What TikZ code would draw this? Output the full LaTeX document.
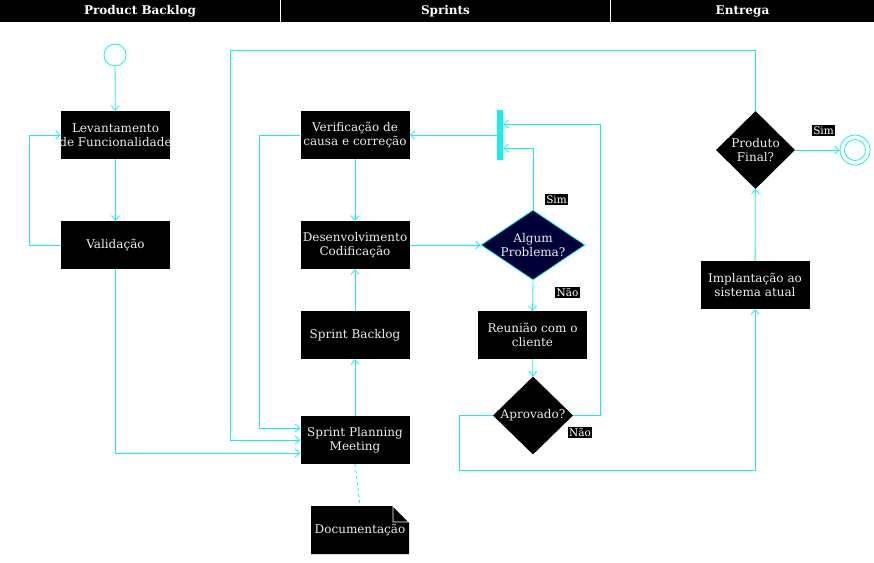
\documentclass[tikz,border=0pt]{standalone}
\usepackage{fontspec}
\setmainfont{DejaVu Serif}
\usetikzlibrary{arrows.meta,shapes.geometric}
\definecolor{flowc}{RGB}{20,240,240}
\definecolor{navy}{RGB}{0,0,56}
\definecolor{txt}{RGB}{236,236,236}
\begin{document}
\begin{tikzpicture}[x=1pt,y=-1pt,
  box/.style={rectangle, fill=black, text=txt, minimum width=109pt, minimum height=48pt,
    inner sep=0pt, align=center, font=\fontsize{12}{14.3}\selectfont},
  decision/.style={diamond, fill=black, inner sep=0pt},
  dtext/.style={text=txt, align=center, font=\fontsize{12}{14.3}\selectfont},
  header/.style={rectangle, fill=black, text=white, minimum height=22pt, inner sep=0pt,
    font=\bfseries\fontsize{12}{14}\selectfont},
  lbl/.style={fill=black, text=white, inner sep=1.2pt, font=\fontsize{10.5}{11}\selectfont},
  link/.style={draw=flowc, line width=0.8pt, -{Straight Barb[length=4.5pt,width=8pt]}},
]
\useasboundingbox (0,0) rectangle (874,562);
\fill[white] (0,0) rectangle (874,562);

% lane headers
\node[header, minimum width=280pt] (h1) at (140,11) {Product Backlog};
\node[header, minimum width=329pt] (h2) at (445.5,11) {Sprints};
\node[header, minimum width=263pt] (h3) at (742.5,11) {Entrega};
\draw[white, line width=1pt] (h1.north east) -- (h1.south east);
\draw[white, line width=1pt] (h2.north east) -- (h2.south east);

% Product Backlog lane
\node[circle, draw=flowc, fill=white, line width=0.8pt, minimum size=22pt, inner sep=0pt] (start) at (115,55) {};
% the label may run past the box edges, the box keeps its width
\node[box, label={[dtext]center:Levantamento\\de Funcionalidade}] (lev) at (115.5,135) {};
\node[box] (val) at (115.5,245) {Validação};

% Sprints lane
\node[box] (ver) at (355,135) {Verificação de\\causa e correção};
\node[box] (dev) at (355,245) {Desenvolvimento\\Codificação};
\node[box] (sb)  at (355,335) {Sprint Backlog};
\node[box] (spm) at (355,440) {Sprint Planning\\Meeting};
\node[box] (reu) at (532.5,335) {Reunião com o\\cliente};
\node[decision, fill=navy, draw=flowc, line width=0.8pt, minimum width=104pt, minimum height=70pt,
  label={[dtext]center:Algum\\Problema?}] (alg) at (533,245) {};
\node[decision, minimum width=80pt, minimum height=78pt,
  label={[dtext]center:Aprovado?}] (apr) at (533,415.5) {};
\node[rectangle, fill=flowc, minimum width=6pt, minimum height=50pt, inner sep=0pt] (bar) at (500,135) {};

% note with folded corner
\fill[black] (311,506) -- (393,506) -- (409,522) -- (409,554) -- (311,554) -- cycle;
\draw[white, line width=0.8pt] (393,506) -- (393,522) -- (409,522) -- cycle;
\node[minimum width=98pt, minimum height=48pt, inner sep=0pt, text=txt,
  font=\fontsize{12}{14}\selectfont] (doc) at (360,530) {\raisebox{-2pt}{Documentação}};

% Entrega lane
\node[box] (imp) at (755,285) {Implantação ao\\sistema atual};
\node[decision, minimum width=79pt, minimum height=78pt,
  label={[dtext]center:Produto\\Final?}] (pf) at (755.5,150) {};
\node[circle, draw=flowc, fill=white, line width=0.8pt, minimum size=30pt, inner sep=0pt] (endc) at (855,150) {};
\draw[flowc, line width=0.8pt] (endc.center) circle (10.5pt);

% waypoints
\coordinate (top) at (230,50);
\coordinate (low) at (755,470);

% connectors
\draw[link] (start) -- (lev);
\draw[link] (lev) -- (val);
\draw[link] (val.west) -- ++(-31,0) |- (lev.west);
\draw[link] (val.south) |- ([yshift=-13pt]spm.west);
\draw[link] (ver.west) -- ++(-41,0) |- ([yshift=12pt]spm.west);
\draw[link] (pf.north) |- (top) |- (spm.west);
\draw[link] (spm) -- (sb);
\draw[link] (sb) -- (dev);
\draw[link] (ver) -- (dev);
\draw[link] (dev) -- (alg);
\draw[link] (alg.north) |- ([yshift=-13pt]bar.east);
\draw[link] (bar.west) -- (ver.east);
\draw[link] (alg.south) -- (reu.north);
\draw[link] (reu) -- (apr);
\draw[link] (apr.east) -- ++(27,0) |- ([yshift=11pt]bar.east);
\draw[link] (apr.west) -- ++(-33,0) |- (low) -- (imp.south);
\draw[link] (imp) -- (pf);
\draw[link] (pf) -- (endc);
\draw[flowc, line width=0.8pt, dashed] (spm.south) -- (doc.north);

% branch labels
\node[lbl] (l1) at (556.5,199.5) {Sim};
\node[lbl] (l2) at (567.5,292.5) {Não};
\node[lbl] (l3) at (580,432.5) {Não};
\node[lbl] (l4) at (823.5,130.5) {Sim};
\end{tikzpicture}
\end{document}
